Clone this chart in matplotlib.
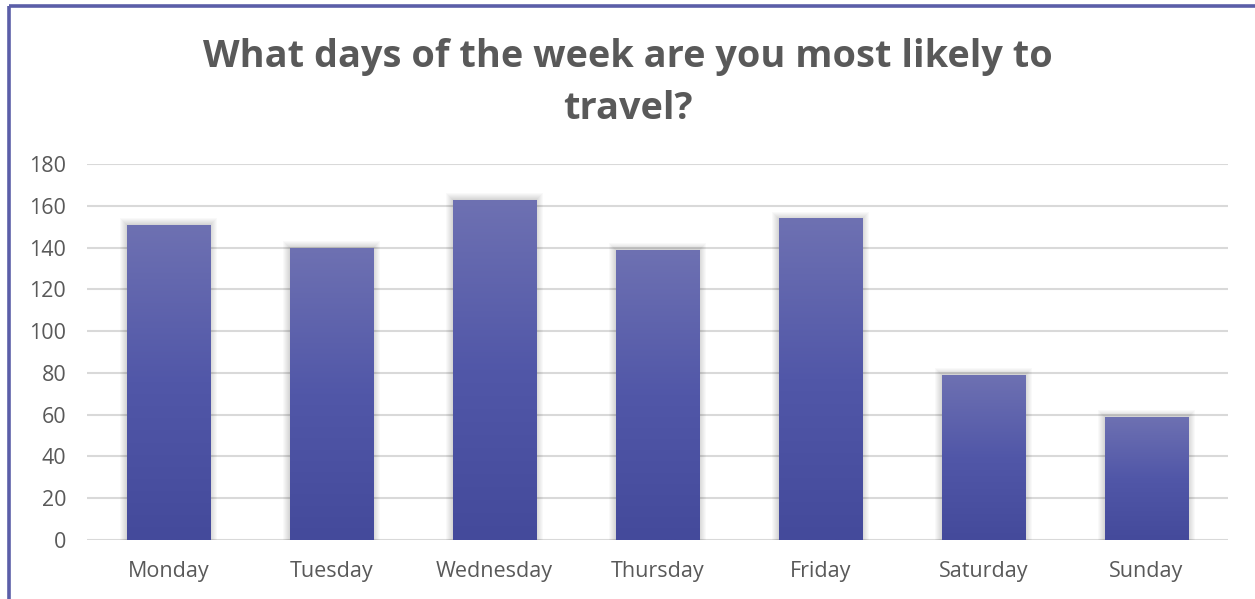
import numpy as np
import matplotlib.pyplot as plt
from matplotlib.colors import LinearSegmentedColormap
from matplotlib.lines import Line2D
from matplotlib.patches import Rectangle

days = ["Monday", "Tuesday", "Wednesday", "Thursday", "Friday", "Saturday", "Sunday"]
counts = [151, 140, 163, 139, 154, 79, 59]
y_ticks = [0, 20, 40, 60, 80, 100, 120, 140, 160, 180]

title = "What days of the week are you most likely to\ntravel?"
text_grey = "#595959"
grid_grey = "#d9d9d9"
frame_color = "#5b5ea8"

plt.rcParams['font.family'] = ['Open Sans', 'DejaVu Sans']

fig = plt.figure(figsize=(12.55, 5.99), dpi=100)
fig.patch.set_facecolor("white")

# chart frame, only the left and top edges fall inside the canvas
fig.add_artist(Line2D([9 / 1255, 9 / 1255], [0, 1 - 6 / 599], transform=fig.transFigure,
                      color=frame_color, lw=2.6, solid_capstyle="butt"))
fig.add_artist(Line2D([9 / 1255, 1], [1 - 6 / 599, 1 - 6 / 599], transform=fig.transFigure,
                      color=frame_color, lw=2.6, solid_capstyle="butt"))

ax = fig.add_axes([87 / 1255, 59 / 599, (1228 - 87) / 1255, (540 - 164) / 599])

x = np.arange(len(days))
width = 0.51
bars = ax.bar(x, counts, width=width, color="none", edgecolor="none", zorder=3)

# vertical gradient, darker at the base
cmap = LinearSegmentedColormap.from_list(
    "bar_grad", [(0.0, "#444a9b"), (0.5, "#5157a8"), (1.0, "#6e71b2")])
grad = np.linspace(0, 1, 256).reshape(-1, 1)

# pixel size in data units for the soft shadow
px_x = len(days) / (1228 - 87)
px_y = 180 / (540 - 164)

for bar in bars:
    x0, w, h = bar.get_x(), bar.get_width(), bar.get_height()
    for k in range(1, 8):
        ax.add_patch(Rectangle((x0 - k * px_x, -0.5 * px_y), w + 2 * k * px_x, h + k * px_y,
                               facecolor="black", edgecolor="none", alpha=0.022, zorder=2))
    im = ax.imshow(grad, extent=[x0, x0 + w, 0, h], origin="lower", aspect="auto",
                   cmap=cmap, zorder=3)
    im.set_clip_path(bar)

ax.set_xlim(-0.5, len(days) - 0.5)
ax.set_ylim(0, 180)
ax.set_yticks(y_ticks)
ax.set_xticks(x)
ax.set_xticklabels(days)
ax.yaxis.grid(True, color=grid_grey, lw=1.5, zorder=0)
ax.set_axisbelow(True)
for side in ax.spines.values():
    side.set_visible(False)
ax.tick_params(axis="both", length=0, colors=text_grey, labelsize=15.5)
ax.tick_params(axis="y", pad=15)
ax.tick_params(axis="x", pad=15)

fig.text(0.5, 1 - 38 / 599, title, ha="center", va="top", fontsize=27.3, fontweight="bold",
         color=text_grey, linespacing=1.48)

fig.savefig("out.png", dpi=100)
